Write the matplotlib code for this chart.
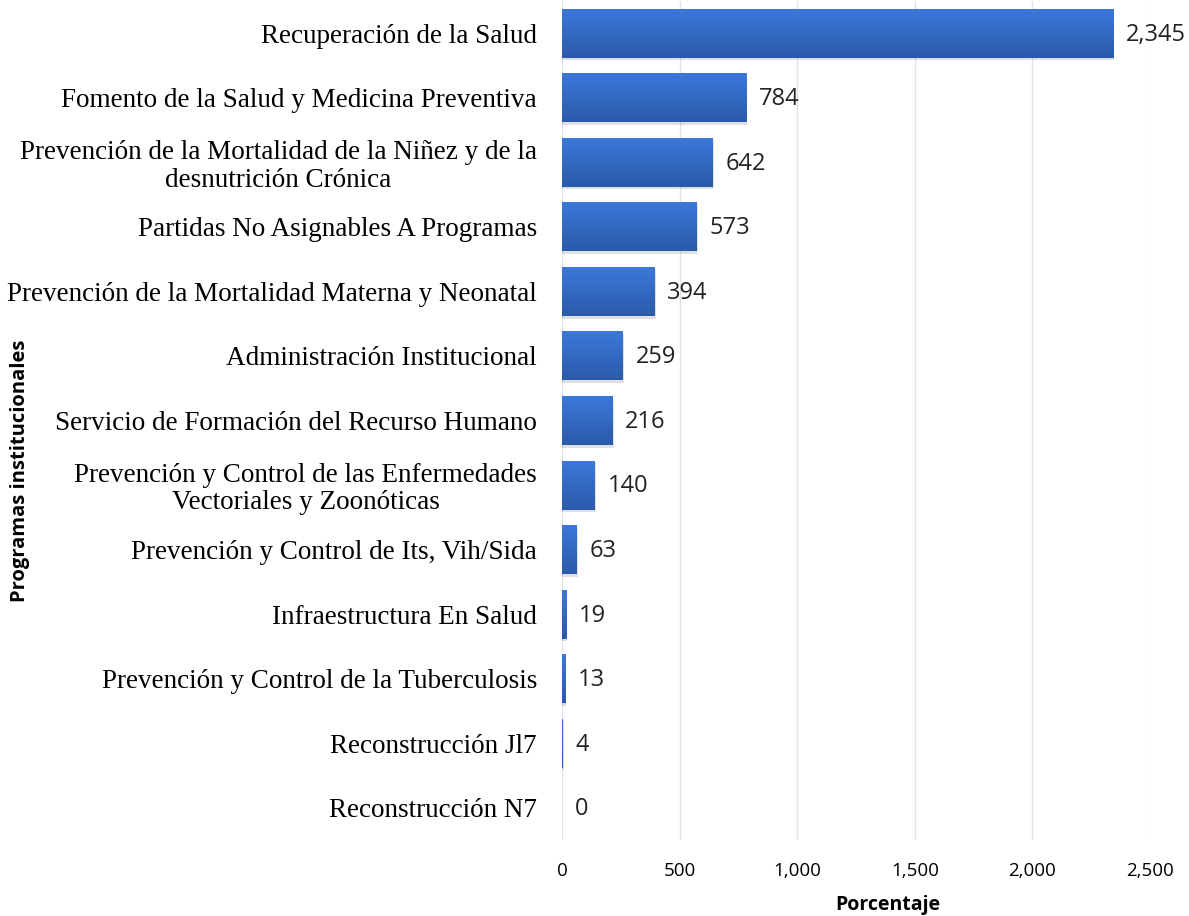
import matplotlib
matplotlib.use("Agg")
import matplotlib.pyplot as plt
import numpy as np
from matplotlib.colors import LinearSegmentedColormap

categories = [
    "Recuperación de la Salud",
    "Fomento de la Salud y Medicina Preventiva",
    "Prevención de la Mortalidad de la Niñez y de la\ndesnutrición Crónica",
    "Partidas No Asignables A Programas",
    "Prevención de la Mortalidad Materna y Neonatal",
    "Administración Institucional",
    "Servicio de Formación del Recurso Humano",
    "Prevención y Control de las Enfermedades\nVectoriales y Zoonóticas",
    "Prevención y Control de Its, Vih/Sida",
    "Infraestructura En Salud",
    "Prevención y Control de la Tuberculosis",
    "Reconstrucción Jl7",
    "Reconstrucción N7",
]
values = [2345, 784, 642, 573, 394, 259, 216, 140, 63, 19, 13, 4, 0]
xticks = [0, 500, 1000, 1500, 2000, 2500]

fig = plt.figure(figsize=(11.89, 9.16), dpi=100)
ax = fig.add_axes([562/1189, 1 - 840/916, (1150 - 562)/1189, (840 - 1)/916])

y = np.arange(len(categories))
bars = ax.barh(y, values, height=0.76, color="#3366cc", zorder=3)

grad = np.linspace(0, 1, 256).reshape(-1, 1)
cmap = LinearSegmentedColormap.from_list("g", ["#3c79da", "#2b5aaa"])
for b in bars:
    x0, y0 = b.get_x(), b.get_y()
    w, h = b.get_width(), b.get_height()
    if w <= 0:
        b.set_visible(False)
        continue
    sh = plt.Rectangle((x0, y0 + 0.04), w + 4, h, color="#000000", alpha=0.12, zorder=2, lw=0)
    ax.add_patch(sh)
    im = ax.imshow(grad, extent=(x0, x0 + w, y0 + h, y0), cmap=cmap, aspect="auto", zorder=4)
    im.set_clip_path(b)
    b.set_facecolor("none")

ax.set_aspect("auto")
ax.set_xlim(0, 2500)
ax.set_ylim(len(categories) - 0.5, -0.5)

for yi, v in zip(y, values):
    ax.annotate(f"{v:,}", xy=(v, yi), xytext=(9, -1), textcoords="offset points",
                va="center", ha="left", fontsize=17, color="#222222",
                family="Open Sans")

ax.set_yticks(y)
ax.set_yticklabels(categories, family="Liberation Serif", fontsize=19.5,
                   multialignment="center", linespacing=1.12)
ax.set_xticks(xticks)
ax.set_xticklabels([f"{t:,}" for t in xticks], family="Open Sans", fontsize=13.5)
ax.tick_params(axis="both", length=0)
ax.tick_params(axis="y", pad=18)
ax.tick_params(axis="x", pad=16)

ax.grid(axis="x", color="#dde3ea", lw=1, zorder=0)
for s in ax.spines.values():
    s.set_visible(False)

ax.set_xlabel("Porcentaje", family="Open Sans", fontsize=14, fontweight="bold")
ax.xaxis.set_label_coords((888 - 562) / (1150 - 562), -(905 - 840) / 839, transform=ax.transAxes)
ax.xaxis.label.set_va("center")
fig.text(20/1189, 1 - 471/916, "Programas institucionales", rotation=90, ha="center", va="center",
         family="Open Sans", fontsize=14.5, fontweight="bold")

fig.savefig("out.png", dpi=100)
